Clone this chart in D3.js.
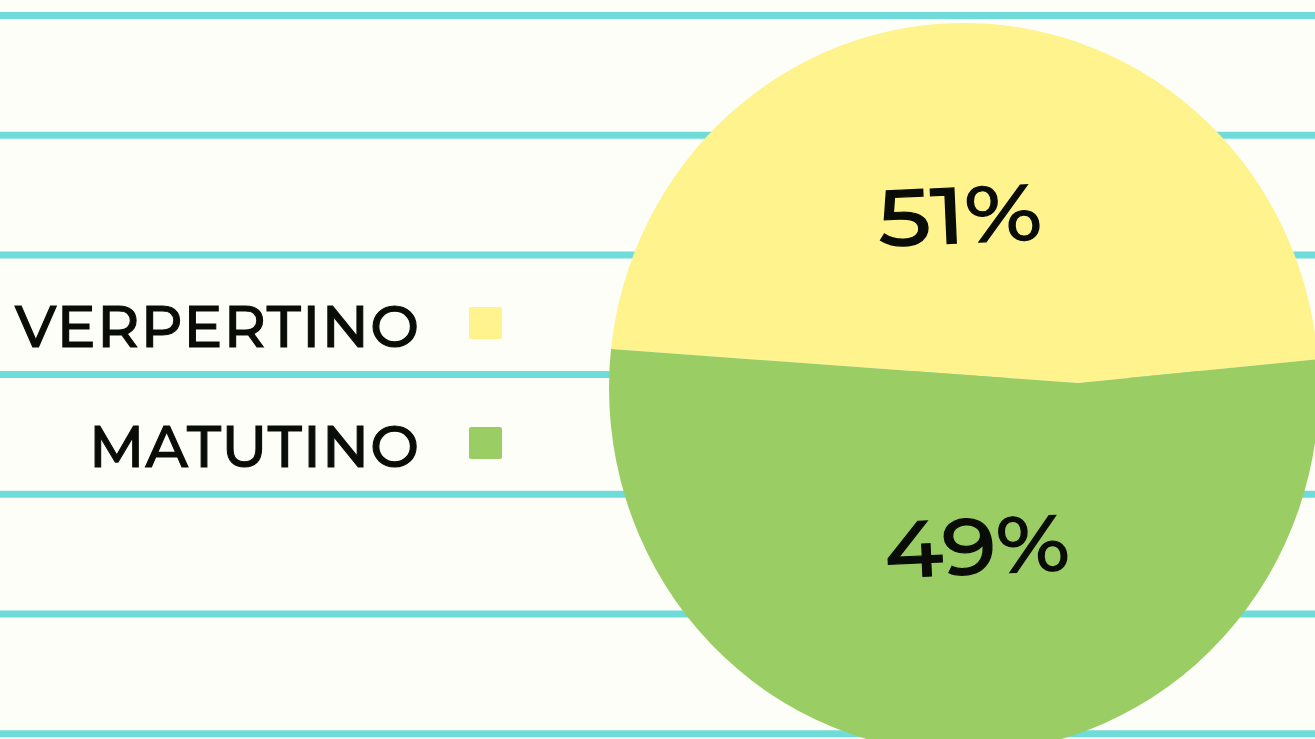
<!DOCTYPE html>
<html>
<head>
<meta charset="utf-8">
<script src="https://cdn.jsdelivr.net/npm/d3@7"></script>
<style>
  html, body { margin: 0; padding: 0; background: #fefef8; overflow: hidden; }
  svg { display: block; }
</style>
</head>
<body>
<div id="chart"></div>
<script>
// data
const categories = ['VERPERTINO', 'MATUTINO'];
const values = [51, 49];
const sliceColors = ['#fff38e', '#9bcd65'];

const width = 1315;
const height = 739;

// pie geometry (slightly tall ellipse, slices meet right of the centre)
const pieGeo = {
  cx: 964, cy: 388, r: 355, stretch: 365 / 355,
  vertex: [1078, 383],
  angleOrigin: [964, 344],
};

const svg = d3.select('#chart')
  .append('svg')
  .attr('width', width)
  .attr('height', height);

svg.append('rect')
  .attr('width', width)
  .attr('height', height)
  .attr('fill', '#fefef8');

// ruled lines in the background
const lineY = d3.scaleLinear().domain([0, 6]).range([15.5, 733.7]);
svg.append('g')
  .selectAll('line')
  .data(d3.range(7))
  .join('line')
  .attr('x1', 0)
  .attr('x2', width)
  .attr('y1', (d) => lineY(d))
  .attr('y2', (d) => lineY(d))
  .attr('stroke', '#6fdcda')
  .attr('stroke-width', 7);

// where a ray from the angle origin hits the circle
const rayHit = (theta) => {
  const dx = Math.sin(theta);
  const dy = -Math.cos(theta);
  const ox = pieGeo.angleOrigin[0] - pieGeo.cx;
  const oy = pieGeo.angleOrigin[1] - pieGeo.cy;
  const b = dx * ox + dy * oy;
  const c = ox * ox + oy * oy - pieGeo.r * pieGeo.r;
  const t = -b + Math.sqrt(b * b - c);
  return [pieGeo.angleOrigin[0] + t * dx, pieGeo.angleOrigin[1] + t * dy];
};
const circleAngle = (p) => Math.atan2(p[1] - pieGeo.cy, p[0] - pieGeo.cx);

const start = (-91 * Math.PI) / 180;
const pie = d3.pie()
  .sort(null)
  .startAngle(start)
  .endAngle(start + 2 * Math.PI);

const vy = pieGeo.cy + (pieGeo.vertex[1] - pieGeo.cy) / pieGeo.stretch;

const slicePath = (d) => {
  const p0 = rayHit(d.startAngle);
  const p1 = rayHit(d.endAngle);
  const path = d3.path();
  path.moveTo(pieGeo.vertex[0], vy);
  path.lineTo(p0[0], p0[1]);
  path.arc(pieGeo.cx, pieGeo.cy, pieGeo.r, circleAngle(p0), circleAngle(p1), false);
  path.closePath();
  return path.toString();
};

const arcs = pie(values);

svg.append('g')
  .attr('transform',
    `translate(${pieGeo.cx},${pieGeo.cy}) scale(1,${pieGeo.stretch}) translate(${-pieGeo.cx},${-pieGeo.cy})`)
  .selectAll('path')
  .data(arcs)
  .join('path')
  .attr('d', slicePath)
  .attr('fill', (d, i) => sliceColors[i]);

// percentage labels
const labelPos = [
  { x: 960, y: 243, w: 164 },
  { x: 977, y: 574, w: 185 },
];

svg.append('g')
  .selectAll('text')
  .data(values)
  .join('text')
  .attr('x', (d, i) => labelPos[i].x)
  .attr('y', (d, i) => labelPos[i].y)
  .attr('transform', (d, i) => `rotate(-2.5, ${labelPos[i].x}, ${labelPos[i].y - 28})`)
  .attr('text-anchor', 'middle')
  .attr('textLength', (d, i) => labelPos[i].w)
  .attr('lengthAdjust', 'spacingAndGlyphs')
  .style('font-family', "Montserrat, Inter, 'DejaVu Sans', sans-serif")
  .style('font-weight', 500)
  .style('font-size', '79px')
  .attr('fill', '#0a0d07')
  .attr('stroke', '#0a0d07')
  .attr('stroke-width', 1.2)
  .text((d) => `${d}%`);

// legend
const legendY = d3.scalePoint().domain(categories).range([347, 467]);
const legendWidths = [404, 330];

const legend = svg.append('g')
  .selectAll('g')
  .data(categories)
  .join('g');

legend.append('text')
  .attr('x', 419)
  .attr('y', (d) => legendY(d))
  .attr('text-anchor', 'end')
  .attr('textLength', (d, i) => legendWidths[i])
  .attr('lengthAdjust', 'spacing')
  .style('font-family', "Montserrat, Inter, 'DejaVu Sans', sans-serif")
  .style('font-weight', 500)
  .style('font-size', '58px')
  .attr('fill', '#0a0d07')
  .attr('stroke', '#0a0d07')
  .attr('stroke-width', 1.1)
  .text((d) => d);

legend.append('rect')
  .attr('x', 469)
  .attr('y', (d) => legendY(d) - 40)
  .attr('width', 33)
  .attr('height', 32)
  .attr('rx', 2)
  .attr('fill', (d, i) => sliceColors[i]);
</script>
</body>
</html>
